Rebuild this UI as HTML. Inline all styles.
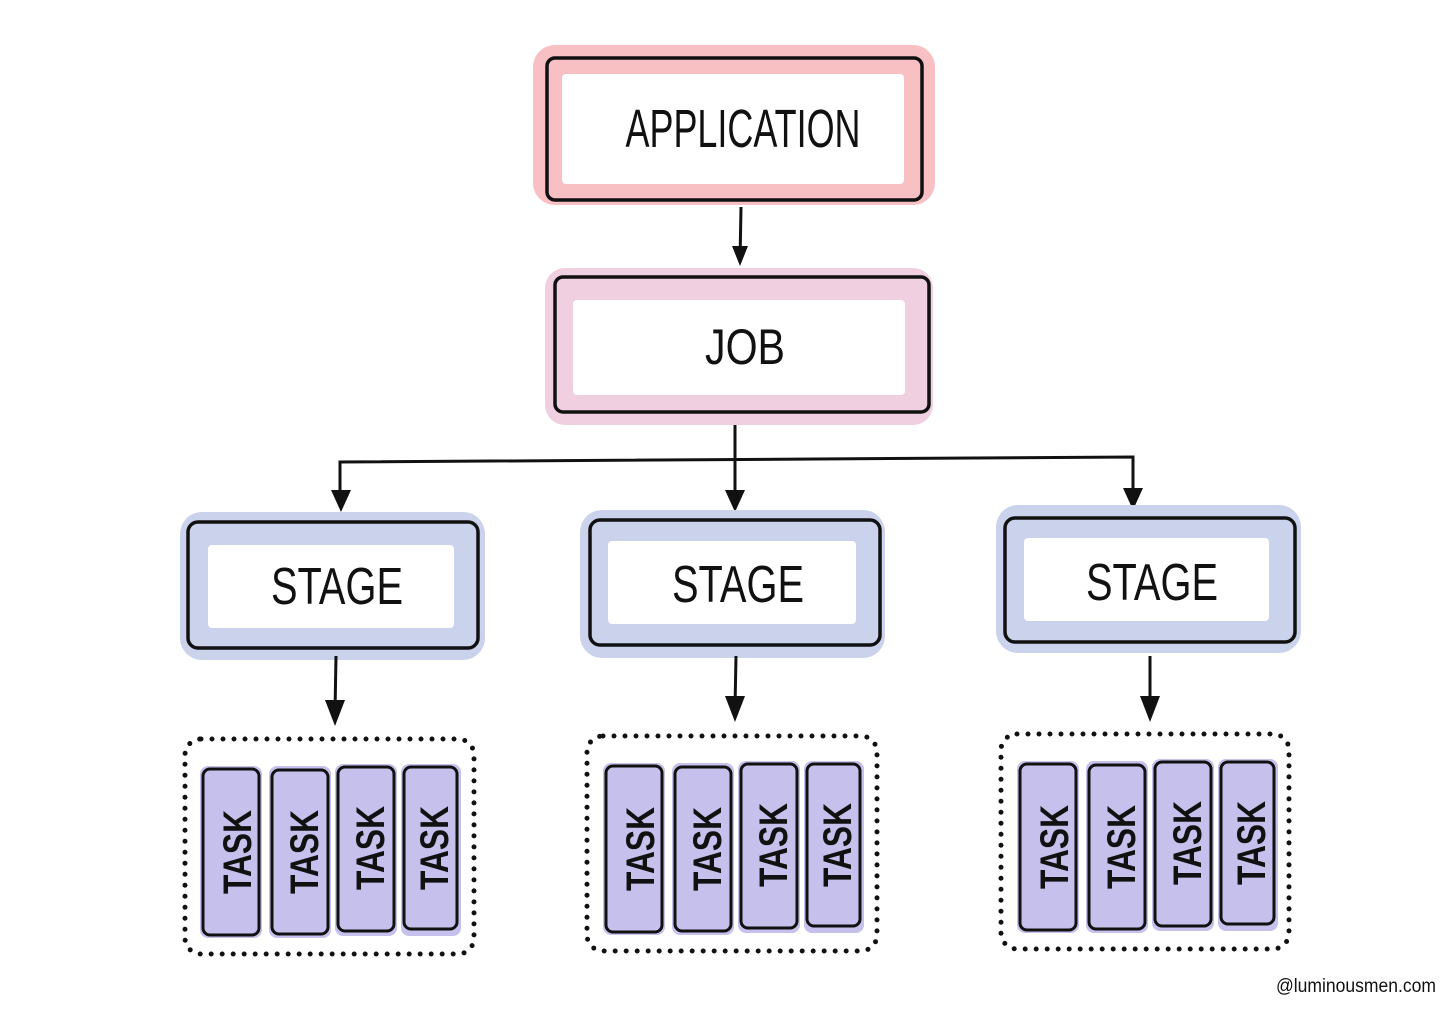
<!DOCTYPE html>
<html><head><meta charset="utf-8"><style>
html,body{margin:0;padding:0;background:#fff;}
svg{display:block;}
text{font-family:"Liberation Sans",sans-serif;fill:#111;}
</style></head><body>
<svg width="1456" height="1017" viewBox="0 0 1456 1017" xmlns="http://www.w3.org/2000/svg">
<defs>
<marker id="ah" markerWidth="12" markerHeight="12" refX="6" refY="10" orient="auto" markerUnits="userSpaceOnUse">
</marker>
</defs>
<rect width="1456" height="1017" fill="#fff"/>

<!-- APPLICATION -->
<rect x="533" y="45" width="402" height="160" rx="22" fill="#f9c0c4"/>
<rect x="547" y="58" width="375" height="142" rx="8" fill="none" stroke="#111" stroke-width="3.5"/>
<rect x="562" y="74" width="342" height="110" rx="4" fill="#fff"/>
<text x="743" y="147" font-size="54" text-anchor="middle" textLength="235" lengthAdjust="spacingAndGlyphs">APPLICATION</text>

<!-- arrow app->job -->
<line x1="741" y1="207" x2="740" y2="262" stroke="#111" stroke-width="3"/>
<path d="M732 246 L740 266 L748 246 Z" fill="#111"/>

<!-- JOB -->
<rect x="545" y="268" width="388" height="157" rx="20" fill="#f0cfe0"/>
<rect x="555" y="277" width="374" height="135" rx="8" fill="none" stroke="#111" stroke-width="3.5"/>
<rect x="573" y="300" width="332" height="95" rx="4" fill="#fff"/>
<text x="745" y="364" font-size="50" text-anchor="middle" textLength="80" lengthAdjust="spacingAndGlyphs">JOB</text>

<!-- connectors job->stages -->
<g stroke="#111" stroke-width="3" fill="none">
<line x1="735" y1="425" x2="735" y2="505"/>
<path d="M340 505 L340 462 L1133 457 L1133 505"/>
</g>
<g fill="#111">
<path d="M331 490 L341 512 L351 490 Z"/>
<path d="M725 490 L735 512 L745 490 Z"/>
<path d="M1123 488 L1133 510 L1143 488 Z"/>
</g>

<!-- STAGES -->
<g>
<rect x="180" y="512" width="305" height="148" rx="22" fill="#cbd3ec"/>
<rect x="188" y="522" width="290" height="126" rx="10" fill="none" stroke="#111" stroke-width="3.5"/>
<rect x="208" y="545" width="246" height="83" rx="4" fill="#fff"/>
<text x="337" y="604" font-size="52" text-anchor="middle" textLength="132" lengthAdjust="spacingAndGlyphs">STAGE</text>
</g>
<g>
<rect x="580" y="510" width="305" height="148" rx="22" fill="#cbd3ec"/>
<rect x="590" y="520" width="290" height="125" rx="10" fill="none" stroke="#111" stroke-width="3.5"/>
<rect x="608" y="541" width="248" height="83" rx="4" fill="#fff"/>
<text x="738" y="602" font-size="52" text-anchor="middle" textLength="132" lengthAdjust="spacingAndGlyphs">STAGE</text>
</g>
<g>
<rect x="996" y="505" width="305" height="148" rx="22" fill="#cbd3ec"/>
<rect x="1005" y="518" width="290" height="124" rx="10" fill="none" stroke="#111" stroke-width="3.5"/>
<rect x="1024" y="538" width="245" height="83" rx="4" fill="#fff"/>
<text x="1152" y="600" font-size="52" text-anchor="middle" textLength="132" lengthAdjust="spacingAndGlyphs">STAGE</text>
</g>

<!-- stage->task arrows -->
<g stroke="#111" stroke-width="3">
<line x1="336" y1="656" x2="335" y2="712"/>
<line x1="736" y1="656" x2="735" y2="708"/>
<line x1="1150" y1="656" x2="1150" y2="708"/>
</g>
<g fill="#111">
<path d="M325 700 L335 726 L345 700 Z"/>
<path d="M725 696 L735 722 L745 696 Z"/>
<path d="M1140 696 L1150 722 L1160 696 Z"/>
</g>

<!-- task groups -->
<g fill="none" stroke="#111" stroke-width="5" stroke-linecap="round" stroke-dasharray="0 11">
<rect x="185" y="739" width="289" height="215" rx="16"/>
<rect x="587" y="736" width="290" height="215" rx="16"/>
<rect x="1001" y="734" width="288" height="215" rx="16"/>
</g>

<g id="tasks">
<!-- group1 -->
<g>
<rect x="200" y="766" width="62" height="172" rx="8" fill="#c5c0ec"/>
<rect x="203" y="769" width="56" height="166" rx="7" fill="none" stroke="#111" stroke-width="3"/>
<text transform="translate(251,852) rotate(-90)" font-size="40" font-weight="bold" text-anchor="middle" textLength="84" lengthAdjust="spacingAndGlyphs">TASK</text>
<rect x="269" y="766" width="62" height="172" rx="8" fill="#c5c0ec"/>
<rect x="272" y="770" width="56" height="164" rx="7" fill="none" stroke="#111" stroke-width="3"/>
<text transform="translate(318,852) rotate(-90)" font-size="40" font-weight="bold" text-anchor="middle" textLength="84" lengthAdjust="spacingAndGlyphs">TASK</text>
<rect x="335" y="764" width="62" height="172" rx="8" fill="#c5c0ec"/>
<rect x="338" y="767" width="56" height="164" rx="7" fill="none" stroke="#111" stroke-width="3"/>
<text transform="translate(384,848) rotate(-90)" font-size="40" font-weight="bold" text-anchor="middle" textLength="84" lengthAdjust="spacingAndGlyphs">TASK</text>
<rect x="401" y="764" width="60" height="172" rx="8" fill="#c5c0ec"/>
<rect x="404" y="767" width="53" height="162" rx="7" fill="none" stroke="#111" stroke-width="3"/>
<text transform="translate(448,848) rotate(-90)" font-size="40" font-weight="bold" text-anchor="middle" textLength="84" lengthAdjust="spacingAndGlyphs">TASK</text>
</g>
<g transform="translate(403,-3)">
<rect x="200" y="766" width="62" height="172" rx="8" fill="#c5c0ec"/>
<rect x="203" y="769" width="56" height="166" rx="7" fill="none" stroke="#111" stroke-width="3"/>
<text transform="translate(251,852) rotate(-90)" font-size="40" font-weight="bold" text-anchor="middle" textLength="84" lengthAdjust="spacingAndGlyphs">TASK</text>
<rect x="269" y="766" width="62" height="172" rx="8" fill="#c5c0ec"/>
<rect x="272" y="770" width="56" height="164" rx="7" fill="none" stroke="#111" stroke-width="3"/>
<text transform="translate(318,852) rotate(-90)" font-size="40" font-weight="bold" text-anchor="middle" textLength="84" lengthAdjust="spacingAndGlyphs">TASK</text>
<rect x="335" y="764" width="62" height="172" rx="8" fill="#c5c0ec"/>
<rect x="338" y="767" width="56" height="164" rx="7" fill="none" stroke="#111" stroke-width="3"/>
<text transform="translate(384,848) rotate(-90)" font-size="40" font-weight="bold" text-anchor="middle" textLength="84" lengthAdjust="spacingAndGlyphs">TASK</text>
<rect x="401" y="764" width="60" height="172" rx="8" fill="#c5c0ec"/>
<rect x="404" y="767" width="53" height="162" rx="7" fill="none" stroke="#111" stroke-width="3"/>
<text transform="translate(448,848) rotate(-90)" font-size="40" font-weight="bold" text-anchor="middle" textLength="84" lengthAdjust="spacingAndGlyphs">TASK</text>
</g>
<g transform="translate(817,-5)">
<rect x="200" y="766" width="62" height="172" rx="8" fill="#c5c0ec"/>
<rect x="203" y="769" width="56" height="166" rx="7" fill="none" stroke="#111" stroke-width="3"/>
<text transform="translate(251,852) rotate(-90)" font-size="40" font-weight="bold" text-anchor="middle" textLength="84" lengthAdjust="spacingAndGlyphs">TASK</text>
<rect x="269" y="766" width="62" height="172" rx="8" fill="#c5c0ec"/>
<rect x="272" y="770" width="56" height="164" rx="7" fill="none" stroke="#111" stroke-width="3"/>
<text transform="translate(318,852) rotate(-90)" font-size="40" font-weight="bold" text-anchor="middle" textLength="84" lengthAdjust="spacingAndGlyphs">TASK</text>
<rect x="335" y="764" width="62" height="172" rx="8" fill="#c5c0ec"/>
<rect x="338" y="767" width="56" height="164" rx="7" fill="none" stroke="#111" stroke-width="3"/>
<text transform="translate(384,848) rotate(-90)" font-size="40" font-weight="bold" text-anchor="middle" textLength="84" lengthAdjust="spacingAndGlyphs">TASK</text>
<rect x="401" y="764" width="60" height="172" rx="8" fill="#c5c0ec"/>
<rect x="404" y="767" width="53" height="162" rx="7" fill="none" stroke="#111" stroke-width="3"/>
<text transform="translate(448,848) rotate(-90)" font-size="40" font-weight="bold" text-anchor="middle" textLength="84" lengthAdjust="spacingAndGlyphs">TASK</text>
</g>
</g>

<text x="1276" y="992" font-size="19" textLength="160" lengthAdjust="spacingAndGlyphs" fill="#222">@luminousmen.com</text>
</svg>
</body></html>
